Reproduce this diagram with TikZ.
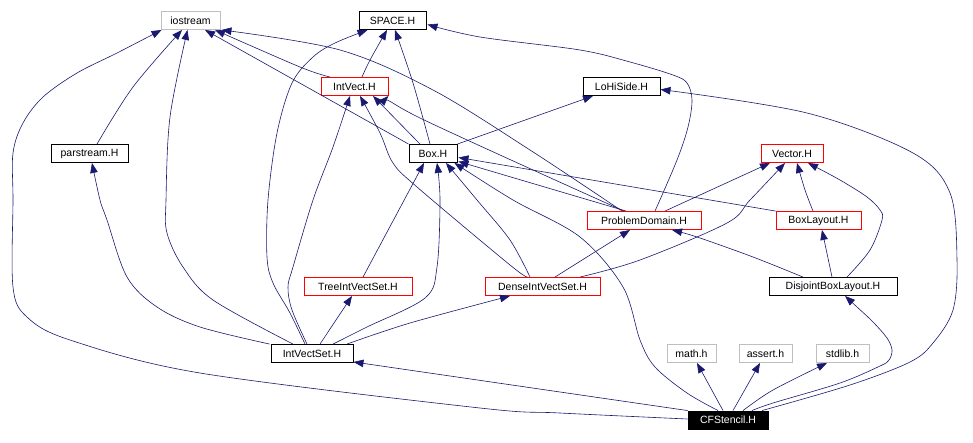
\documentclass[tikz,border=0pt]{standalone}
\usepackage{fontspec}
\setmainfont{Liberation Sans}
\usetikzlibrary{arrows.meta,calc}
\definecolor{navy}{HTML}{191970}
\definecolor{grayb}{HTML}{BFBFBF}
\begin{document}
\begin{tikzpicture}[x=1pt,y=-1pt,
  nb/.style={draw,line width=0.9pt,inner sep=0pt,minimum height=18pt,font=\fontsize{10.5}{12}\selectfont,fill=white},
  blk/.style={nb,draw=black},
  redb/.style={nb,draw=red},
  gryb/.style={nb,draw=grayb},
  cfs/.style={nb,draw=black,fill=black,text=white},
  edge/.style={draw=navy,line width=0.6pt,-{Triangle[length=10pt,width=7.5pt]}},
  sm/.style={smooth,tension=0.55}
]
\useasboundingbox (0,0) rectangle (973,442);
% nodes
\node[gryb,minimum width=59pt]  (io)    at (190.5,20.5) {iostream};
\node[blk,minimum width=67pt]   (space) at (392.5,20.5) {SPACE.H};
\node[redb,minimum width=67pt]  (ivect) at (354.5,86.5) {IntVect.H};
\node[blk,minimum width=77pt]   (lohi)  at (621.5,86.5) {LoHiSide.H};
\node[blk,minimum width=77pt]   (par)   at (89.5,153.5) {parstream.H};
\node[blk,minimum width=48pt]   (box)   at (433,153.5) {Box.H};
\node[redb,minimum width=62pt]  (vec)   at (792,153.5) {Vector.H};
\node[redb,minimum width=114pt] (pd)    at (644,220.5) {ProblemDomain.H};
\node[redb,minimum width=85pt]  (bl)    at (818.5,220.5) {BoxLayout.H};
\node[redb,minimum width=108pt] (tree)  at (358,286.5) {TreeIntVectSet.H};
\node[redb,minimum width=115pt] (dense) at (542.5,286.5) {DenseIntVectSet.H};
\node[blk,minimum width=128pt]  (dbl)   at (833,286.5) {DisjointBoxLayout.H};
\node[blk,minimum width=82pt]   (ivs)   at (312,353.5) {IntVectSet.H};
\node[gryb,minimum width=49pt]  (math)  at (691.5,353.5) {math.h};
\node[gryb,minimum width=53pt]  (assert) at (765.5,353.5) {assert.h};
\node[gryb,minimum width=53pt]  (stdlib) at (842.5,353.5) {stdlib.h};
\node[cfs,minimum width=80pt]   (cf)    at (728,420) {CFStencil.H};

% CFStencil.H
\draw[edge] ($(cf.north)+(-5,0)$) -- ($(math.south)+(5.5,0)$);
\draw[edge] ($(cf.north)+(5,0)$) -- ($(assert.south)+(-5.5,0)$);
\draw[edge] plot[sm] coordinates {($(cf.north)+(15,0)$) (773,390) ($(stdlib.south)+(-15.5,0)$)};
\draw[edge] plot[sm] coordinates {($(cf.north)+(24,0)$) (773,403) (840,383) (880,366) (889,360) (892,350) (887,338) (873,322) (857,307) ($(dbl.south)+(12,0)$)};
\draw[edge] plot[sm] coordinates {($(cf.north)+(34,0)$) (850,385) (910,362) (933,343) (953,310) (957,260) (950,193) (913,153) (807,113) ($(lohi.east)+(0,3)$)};
\draw[edge] plot[sm] coordinates {($(cf.north)+(-10,0)$) (687,393) (655,367) (640,340) (623,287) (580,237) (513,200) ($(box.south east)+(-3,0)$)};
\draw[edge] (cf.north west) -- ($(ivs.south east)+(0,-1)$);
\draw[edge] plot[sm] coordinates {($(cf.west)+(0,-1)$) (560,413) (480,408) (200,373) (70,340) (27,317) (13,287) (13,200) (13,153) (23,123) (43,97) (77,73) (117,53) ($(io.south west)+(1,0)$)};

% IntVectSet.H
\draw[edge] plot[sm] coordinates {($(ivs.north west)+(-1,0)$) (200,327) (157,307) (127,277) (107,220) (100,200) ($(par.south)+(2.5,0)$)};
\draw[edge] plot[sm] coordinates {($(ivs.north)+(-19,0)$) (213,300) (183,267) (167,233) (166,200) (170,117) ($(io.south)+(-3,0)$)};
\draw[edge] plot[sm] coordinates {($(ivs.north)+(-7,0)$) (290,313) (273,283) (267,257) (268,200) (277,133) (292,83) (313,57) (335,43) ($(space.south)+(-25,0)$)};
\draw[edge] plot[sm] coordinates {($(ivs.north)+(-5,0)$) (292,310) (288,287) (293,267) (313,200) (333,147) ($(ivect.south)+(-4.5,0)$)};
\draw[edge] ($(ivs.north)+(8,0)$) -- ($(tree.south)+(-6,0)$);
\draw[edge] plot[sm] coordinates {($(ivs.north)+(21,0)$) (367,327) (425,298) (437,267) (440,200) ($(box.south)+(4,0)$)};
\draw[edge] plot[sm] coordinates {($(ivs.north)+(35,0)$) (410,323) ($(dense.south)+(-32.5,0)$)};

% parstream.H
\draw[edge] plot[sm] coordinates {($(par.north)+(7.5,0)$) (133,87) ($(io.south)+(-8.5,0)$)};

% TreeIntVectSet.H
\draw[edge] ($(tree.north)+(5,0)$) -- ($(box.south)+(-9,0)$);

% DenseIntVectSet.H
\draw[edge] plot[sm] coordinates {($(dense.north)+(-12.5,0)$) (510,240) (477,200) ($(box.south)+(13,0)$)};
\draw[edge] plot[sm] coordinates {($(dense.north)+(-15,0)$) (510,265) (417,187) (393,163) (380,133) ($(ivect.south)+(5.5,0)$)};
\draw[edge] ($(dense.north)+(12.5,0)$) -- ($(pd.south)+(-14,0)$);
\draw[edge] plot[sm] coordinates {($(dense.north)+(37.5,0)$) (640,260) (727,223) (750,200) ($(vec.south)+(-7,0)$)};

% Box.H
\draw[edge] plot[sm] coordinates {($(box.north)+(-3,0)$) (413,83) ($(space.south)+(2.5,0)$)};
\draw[edge] ($(box.north)+(-13,0)$) -- ($(ivect.south)+(18.5,0)$);
\draw[edge] (box.north west) -- ($(io.south)+(14.5,0)$);
\draw[edge] (box.north east) -- ($(lohi.south)+(-28.5,0)$);

% ProblemDomain.H
\draw[edge] plot[sm] coordinates {($(pd.north)+(-22,0)$) (530,150) (433,90) (340,50) ($(io.south east)+(1,0)$)};
\draw[edge] plot[sm] coordinates {($(pd.north)+(-20,0)$) (420,118) (ivect.south east)};
\draw[edge] ($(pd.north)+(-18,0)$) -- ($(box.east)+(1,8)$);
\draw[edge] plot[sm] coordinates {($(pd.north)+(11,0)$) (677,160) (688,127) (692,100) (687,83) (673,75) (630,62) (580,50) (480,37) ($(space.east)+(1,4)$)};
\draw[edge] ($(pd.north)+(21,0)$) -- ($(vec.south)+(-22,0)$);

% BoxLayout.H
\draw[edge] (bl.north west) -- ($(box.east)+(1,4)$);
\draw[edge] plot[sm] coordinates {($(bl.north)+(-5.5,0)$) (805,190) ($(vec.south)+(5,0)$)};

% DisjointBoxLayout.H
\draw[edge] ($(dbl.north)+(-1,0)$) -- ($(bl.south)+(3.5,0)$);
\draw[edge] plot[sm] coordinates {($(dbl.north)+(14,0)$) (870,250) (882,220) (880,210) (867,197) (840,180) ($(vec.south)+(16,0)$)};
\draw[edge] plot[sm] coordinates {($(dbl.north)+(-30,0)$) (753,257) (697,237) ($(pd.south)+(28,0)$)};

% IntVect.H
\draw[edge] plot[sm] coordinates {($(ivect.north)+(7.5,0)$) (370,60) ($(space.south)+(-5.5,0)$)};
\draw[edge] plot[sm] coordinates {($(ivect.north)+(-24.5,0)$) (300,67) ($(io.south)+(24.5,0)$)};
\end{tikzpicture}
\end{document}
